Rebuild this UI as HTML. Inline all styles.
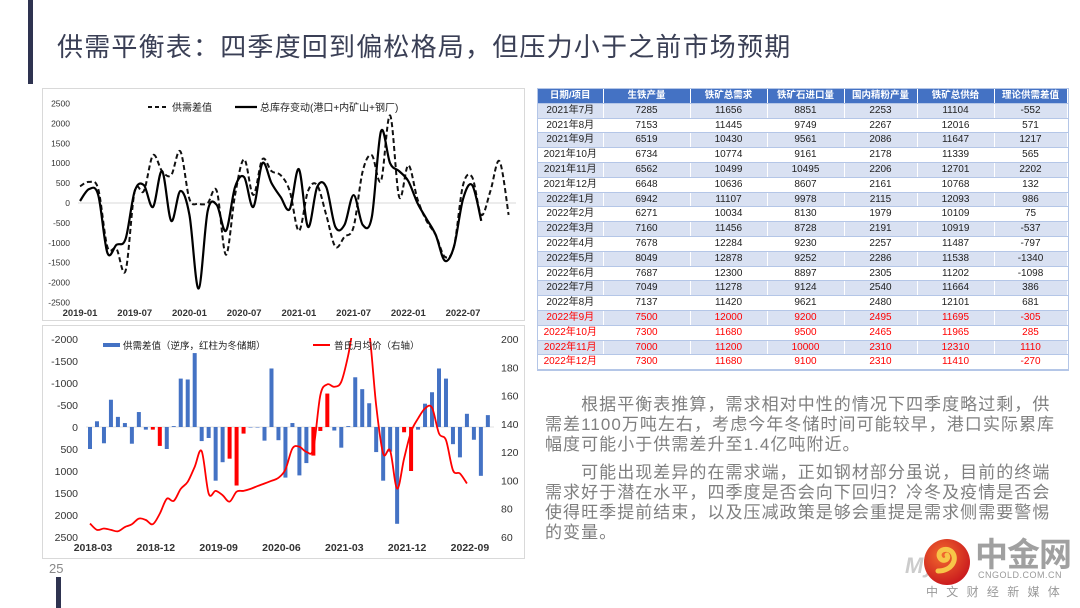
<!DOCTYPE html>
<html><head><meta charset="utf-8">
<style>
body{margin:0;width:1080px;height:608px;background:#fff;position:relative;overflow:hidden;font-family:"Liberation Sans","Noto Sans CJK SC",sans-serif;}
.abs{position:absolute;}
table{border-collapse:collapse;table-layout:fixed;}
td{font-size:10px;text-align:center;height:13.8px;padding:0;line-height:13.8px;color:#222;border-right:1px solid #fff;border-bottom:1px solid #b4c6e7;}
tr.h td{background:#4472c4;color:#fff;font-weight:bold;font-size:9.5px;height:13.5px;}
tr.a td{background:#d9e1f2;}
tr.f td{color:#ff0000;}
.para{color:#7f7f7f;font-size:17px;line-height:20px;letter-spacing:1.05px;white-space:nowrap;}
</style></head>
<body>
<div class="abs" style="left:28px;top:0;width:5px;height:84px;background:#2e3350"></div>
<div class="abs" style="left:56px;top:577px;width:5px;height:31px;background:#2e3350"></div>
<div class="abs" style="left:57px;top:31px;font-size:26px;letter-spacing:1.2px;color:#3a3f55;white-space:nowrap;line-height:32px">供需平衡表：四季度回到偏松格局，但压力小于之前市场预期</div>
<div class="abs" style="left:49px;top:561px;font-size:13px;color:#888">25</div>

<svg class="abs" style="left:0;top:0" width="1080" height="608" id="charts">
<rect x="42.5" y="88.5" width="482" height="232" fill="#fff" stroke="#d9d9d9"/>
<rect x="42.5" y="325.5" width="482" height="233" fill="#fff" stroke="#d9d9d9"/>
<g id="top"></g>
<g id="bot"></g>
<defs><clipPath id="bclip"><rect x="78" y="338" width="420" height="200"/></clipPath>
<radialGradient id="lg" cx="40%" cy="35%" r="70%"><stop offset="0" stop-color="#f26a2e"/><stop offset="1" stop-color="#c8161d"/></radialGradient></defs>
</svg>

<div class="abs" style="left:537px;top:88px;border:1px solid #b4c6e7">
<table>
<colgroup><col style="width:65px"><col style="width:87px"><col style="width:77px"><col style="width:77px"><col style="width:73px"><col style="width:77px"><col style="width:73px"></colgroup>
<tbody id="tb"></tbody></table></div>

<div class="abs para" style="left:545px;top:395px">　　根据平衡表推算，需求相对中性的情况下四季度略过剩，供<br>需差1100万吨左右，考虑今年冬储时间可能较早，港口实际累库<br>幅度可能小于供需差升至1.4亿吨附近。</div>
<div class="abs para" style="left:545px;top:463px">　　可能出现差异的在需求端，正如钢材部分虽说，目前的终端<br>需求好于潜在水平，四季度是否会向下回归？冷冬及疫情是否会<br>使得旺季提前结束，以及压减政策是够会重提是需求侧需要警惕<br>的变量。</div>

<div class="abs" style="left:905px;top:553px;font-size:22px;font-weight:bold;font-style:italic;color:#ccc">My</div>
<svg class="abs" style="left:922px;top:537px" width="52" height="52"><circle cx="25" cy="25" r="23" fill="url(#lg)"/><path d="M16 34 C30 34 36 22 30 15 C24 9 14 14 18 21 C21 26 28 22 25 18" fill="none" stroke="#f7c548" stroke-width="5" stroke-linecap="round"/></svg>
<div class="abs" style="left:975px;top:536px;font-size:33px;font-weight:bold;color:#a0a0a0;letter-spacing:-1px;line-height:38px">中金网</div>
<div class="abs" style="left:978px;top:570px;font-size:9px;color:#999;letter-spacing:0.5px">CNGOLD.COM.CN</div>
<div class="abs" style="left:926px;top:583px;font-size:12px;color:#999;letter-spacing:8.3px;white-space:nowrap">中文财经新媒体</div>

<script>
const NS='http://www.w3.org/2000/svg';
function mk(p,t,a){const e=document.createElementNS(NS,t);for(const k in a)e.setAttribute(k,a[k]);p.appendChild(e);return e;}
function smooth(pts){let d='M'+pts[0][0]+','+pts[0][1];for(let i=0;i<pts.length-1;i++){const p0=pts[i-1]||pts[i],p1=pts[i],p2=pts[i+1],p3=pts[i+2]||p2;const c1x=p1[0]+(p2[0]-p0[0])/6,c1y=p1[1]+(p2[1]-p0[1])/6,c2x=p2[0]-(p3[0]-p1[0])/6,c2y=p2[1]-(p3[1]-p1[1])/6;d+=' C'+c1x+','+c1y+' '+c2x+','+c2y+' '+p2[0]+','+p2[1];}return d;}

// ---- top chart data ----
const topYTicks=[2500,2000,1500,1000,500,0,-500,-1000,-1500,-2000,-2500];
const topXLabels=['2019-01','2019-07','2020-01','2020-07','2021-01','2021-07','2022-01','2022-07'];
const gapSeries=[420,530,350,-1100,-1150,-1700,300,300,1200,800,700,1300,100,-20,0,300,-1300,200,1100,200,1100,800,700,300,-700,300,450,-300,-1100,-850,-600,800,1200,550,2200,150,950,100,-450,-800,-1350,-1100,450,650,-300,300,1050,-300];
const invSeries=[50,350,200,-1250,-1050,-900,300,450,-100,800,-450,300,-300,-2150,-200,-50,-700,400,650,-100,1000,500,150,-150,850,-600,400,400,-600,-550,200,-550,-350,1800,1000,800,550,0,-400,-800,-1450,-1100,100,450,-450];
// ---- bottom chart data ----
const botLTicks=[-2000,-1500,-1000,-500,0,500,1000,1500,2000,2500];
const botLLabels=['-2000','-1500','-1000','-500','0','500','1000','1500','2000','2500'];
const botRTicks=[200,180,160,140,120,100,80,60];
const botXLabels=['2018-03','2018-12','2019-09','2020-06','2021-03','2021-12','2022-09'];
const gapBars=[500,-130,370,-620,-230,-90,380,-340,60,60,430,500,-20,-1100,-1080,-1680,320,250,1220,800,720,1330,150,0,0,310,-1330,300,1150,-90,1100,820,650,90,-760,80,470,-20,-1130,-860,-540,570,1220,560,2200,120,1000,60,-530,-790,-1330,-1100,390,690,-300,290,1110,-270];
const winterIdx=[9,10,20,21,22,32,33,34,45,46];
const priceSeries=[69.5,65,66,65,64,67,69,73,72,69,76.5,87,85.5,94,99,109.6,120.7,90.7,92.6,89.5,85,92,92.6,94,96,97.8,99.7,101.8,107.7,122.6,123.8,120.2,122.6,160.3,167.9,166.2,169.8,188.7,215,218,205,153,119,121,94.2,115.5,134.4,143.8,150.9,151.4,133.2,128.5,107.2,104.9,97.8];

// ---- top chart ----
const T=document.getElementById('top');
const tx=m=>80+9.12*m, ty=v=>203-0.0398*v;
mk(T,'line',{x1:78,x2:516,y1:ty(0),y2:ty(0),stroke:'#d9d9d9','stroke-width':1});
topYTicks.forEach(v=>{const t=mk(T,'text',{x:70,y:ty(v)+3,'text-anchor':'end','font-size':8.5,fill:'#333'});t.textContent=v;});
topXLabels.forEach((s,i)=>{const t=mk(T,'text',{x:tx(i*6),y:316,'text-anchor':'middle','font-size':9.5,'font-weight':'bold',fill:'#333'});t.textContent=s;});
let p=mk(T,'path',{d:smooth(gapSeries.map((v,i)=>[tx(i),ty(v)])),fill:'none',stroke:'#111','stroke-width':2,'stroke-dasharray':'5,3'});

p=mk(T,'path',{d:smooth(invSeries.map((v,i)=>[tx(i),ty(v)])),fill:'none',stroke:'#000','stroke-width':2.2});

mk(T,'line',{x1:148,x2:168,y1:107,y2:107,stroke:'#111','stroke-width':2,'stroke-dasharray':'4,3'});
let t=mk(T,'text',{x:172,y:111,'font-size':10,fill:'#222'});t.textContent='供需差值';
mk(T,'line',{x1:235,x2:257,y1:107,y2:107,stroke:'#000','stroke-width':2.2});
t=mk(T,'text',{x:260,y:111,'font-size':10,fill:'#222'});t.textContent='总库存变动(港口+内矿山+钢厂)';

// ---- bottom chart ----
const B=document.getElementById('bot');
const bx=m=>90+6.98*m, by=v=>427+0.044*v, ry=v=>339+(200-v)*1.414;
mk(B,'line',{x1:86,x2:494,y1:by(0),y2:by(0),stroke:'#e0e0e0','stroke-width':1});
botLTicks.forEach((v,i)=>{const t=mk(B,'text',{x:78,y:by(v)+4,'text-anchor':'end','font-size':10.5,fill:'#333'});t.textContent=botLLabels[i];});
botRTicks.forEach(v=>{const t=mk(B,'text',{x:501,y:ry(v)+4,'font-size':10.5,fill:'#333'});t.textContent=v;});
botXLabels.forEach((s,i)=>{const t=mk(B,'text',{x:bx(i*9)+3,y:551,'text-anchor':'middle','font-size':10.5,'font-weight':'bold',fill:'#333'});t.textContent=s;});
gapBars.forEach((v,i)=>{const y0=by(0),y1=by(v);const r=mk(B,'rect',{x:bx(i)-2,y:Math.min(y0,y1),width:4,height:Math.max(0.5,Math.abs(y1-y0)),fill:winterIdx.includes(i)?'#ff0000':'#4472c4'});});
p=mk(B,'path',{d:smooth(priceSeries.map((v,i)=>[bx(i),ry(v)])),fill:'none',stroke:'#ff0000','stroke-width':1.8,'clip-path':'url(#bclip)'});

mk(B,'rect',{x:103,y:343,width:17,height:4,fill:'#4472c4'});
t=mk(B,'text',{x:123,y:349,'font-size':9.5,fill:'#222'});t.textContent='供需差值（逆序，红柱为冬储期）';
mk(B,'line',{x1:313,x2:330,y1:345,y2:345,stroke:'#ff0000','stroke-width':2});
t=mk(B,'text',{x:334,y:349,'font-size':9.5,fill:'#222'});t.textContent='普氏月均价（右轴）';

// ---- table ----
const head=['日期/项目','生铁产量','铁矿总需求','铁矿石进口量','国内精粉产量','铁矿总供给','理论供需差值'];
const rows=[['2021年7月',7285,11656,8851,2253,11104,-552],['2021年8月',7153,11445,9749,2267,12016,571],['2021年9月',6519,10430,9561,2086,11647,1217],['2021年10月',6734,10774,9161,2178,11339,565],['2021年11月',6562,10499,10495,2206,12701,2202],['2021年12月',6648,10636,8607,2161,10768,132],['2022年1月',6942,11107,9978,2115,12093,986],['2022年2月',6271,10034,8130,1979,10109,75],['2022年3月',7160,11456,8728,2191,10919,-537],['2022年4月',7678,12284,9230,2257,11487,-797],['2022年5月',8049,12878,9252,2286,11538,-1340],['2022年6月',7687,12300,8897,2305,11202,-1098],['2022年7月',7049,11278,9124,2540,11664,386],['2022年8月',7137,11420,9621,2480,12101,681],['2022年9月',7500,12000,9200,2495,11695,-305],['2022年10月',7300,11680,9500,2465,11965,285],['2022年11月',7000,11200,10000,2310,12310,1110],['2022年12月',7300,11680,9100,2310,11410,-270]];
const tb=document.getElementById('tb');
let tr=document.createElement('tr');tr.className='h';


head.forEach(h=>{const td=document.createElement('td');td.textContent=h;tr.appendChild(td);});tb.appendChild(tr);
rows.forEach((r,i)=>{const tr=document.createElement('tr');tr.className=(i%2===0?'a':'')+(i>=14?' f':'');


r.forEach(c=>{const td=document.createElement('td');td.textContent=c;tr.appendChild(td);});tb.appendChild(tr);});
</script>
</body></html>
